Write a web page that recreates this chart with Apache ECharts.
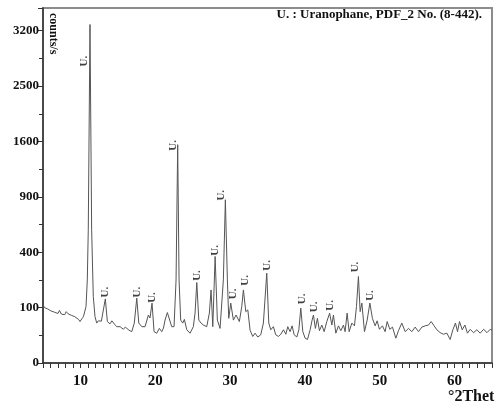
<!DOCTYPE html>
<html><head><meta charset="utf-8">
<script src="https://cdn.jsdelivr.net/npm/echarts@6/dist/echarts.min.js"></script>
<style>html,body{margin:0;padding:0;background:#fff}#c{width:495px;height:405px}</style>
</head><body><div id="c"></div>
<script>
// 2-theta positions (degrees) and intensities (counts/s)
const twoTheta = [5.0,5.2,5.4,5.65,5.9,6.1,6.3,6.55,6.8,7.0,7.2,7.45,7.7,7.9,8.1,8.35,8.6,8.8,9.0,9.25,9.5,9.75,9.95,10.2,10.4,10.75,10.92,11.05,11.28,11.5,11.72,11.95,12.18,12.4,12.62,12.8,12.98,13.33,13.6,13.96,14.2,14.4,14.6,14.85,15.1,15.3,15.5,15.74,16.0,16.19,16.5,16.86,17.2,17.53,17.8,18.2,18.4,18.64,19.08,19.3,19.57,19.84,20.2,20.55,20.87,21.1,21.31,21.62,21.88,22.2,22.51,22.78,23.0,23.18,23.4,23.68,23.89,24.21,24.45,24.65,25.09,25.32,25.55,25.82,26.12,26.43,26.65,26.88,27.23,27.46,27.69,28.0,28.3,28.66,28.89,29.1,29.37,29.64,29.82,30.09,30.44,30.8,31.24,31.56,31.78,32.1,32.37,32.67,33.03,33.34,33.7,34.1,34.45,34.9,35.17,35.44,35.79,36.1,36.46,36.78,37.13,37.45,37.71,38.02,38.29,38.56,38.92,39.19,39.45,39.72,40.03,40.34,40.7,40.96,41.14,41.4,41.67,41.94,42.26,42.57,42.93,43.3,43.6,43.81,44.13,44.48,44.8,45.15,45.37,45.64,45.91,46.27,46.62,46.89,47.15,47.38,47.61,47.96,48.32,48.68,49.02,49.39,49.65,49.96,50.36,50.72,50.99,51.35,51.7,52.15,52.5,52.95,53.4,53.84,54.29,54.73,55.18,55.63,56.07,56.51,56.87,57.27,57.63,58.07,58.52,58.97,59.41,59.77,60.12,60.39,60.66,61.02,61.38,61.72,62.09,62.53,62.98,63.42,63.88,64.33,64.76,65.0];
const counts = [112,100,104,95,98,88,92,84,86,80,90,78,81,76,86,79,82,74,75,70,66,62,56,64,70,104,225,578,3736,578,144,70,52,58,53,57,60,134,56,50,58,56,48,43,47,43,40,37,42,39,35,32,52,137,52,43,47,43,75,66,117,32,29,39,32,40,60,83,81,43,43,225,1554,225,60,52,62,36,33,29,43,81,211,60,52,47,50,43,81,174,43,370,60,39,43,225,869,225,65,117,60,75,56,104,174,86,92,35,23,29,22,26,52,263,52,36,43,26,23,27,36,27,43,32,45,26,22,36,98,32,20,18,36,60,75,39,65,34,47,32,56,81,47,75,29,45,34,47,32,81,32,52,45,104,244,86,117,32,60,117,65,45,58,37,45,32,56,37,42,20,34,52,32,39,32,42,32,42,45,47,56,45,36,30,27,29,18,36,52,32,56,36,47,29,37,30,36,29,37,30,37,35];

// "U." peak annotation positions (2-theta, counts at label base)
const peakLabelTheta  = [10.48,13.33,17.53,19.53,22.34,25.63,27.99,28.76,30.44,32.01,34.91,39.59,41.23,43.37,46.71,48.72];
const peakLabelCounts = [2865,140,140,118,1470,220,375,860,133,195,278,113,84,89,268,126];
const peakLabelText = 'U.';

// y-axis tick labels (square-root intensity scale)
const yTickLabels = ['0','100','400','900','1600','2500','3200'];
const xTickLabels = [10,20,30,40,50,60];

const title = 'U. : Uranophane, PDF_2 No. (8-442).';
const yName = 'counts/s';
const xName = '°2Theta';

const FONT = '"Liberation Serif", "Times New Roman", serif';
const xMin = 5, xMax = 65;
const yMaxSqrt = 64.1;

const lineData = twoTheta.map((t, i) => [t, Math.sqrt(counts[i])]);
const labelData = peakLabelTheta.map((t, i) => [t, Math.sqrt(peakLabelCounts[i])]);
const minorX = [];
for (let v = xMin; v <= xMax; v++) minorX.push(v);

const chart = echarts.init(document.getElementById('c'), null, {renderer: 'canvas'});
chart.setOption({
  animation: false,
  backgroundColor: '#fff',
  grid: {left: 43, right: 3, top: 8, bottom: 42, show: true, borderColor: '#8c8c8c', borderWidth: 2, backgroundColor: 'transparent'},
  xAxis: {
    type: 'value', min: xMin, max: xMax,
    axisLine: {show: true, onZero: false, lineStyle: {color: '#333', width: 1.5}},
    axisTick: {show: true, inside: false, length: 5, customValues: minorX, lineStyle: {color: '#333', width: 1}},
    axisLabel: {show: true, customValues: xTickLabels, color: '#111', fontFamily: FONT, fontWeight: 'bold', fontSize: 15, margin: 11},
    splitLine: {show: false}
  },
  yAxis: {
    type: 'value', min: 0, max: yMaxSqrt, interval: 10,
    axisLine: {show: true, lineStyle: {color: '#333', width: 1.5}},
    axisTick: {show: true, inside: false, length: 5, lineStyle: {color: '#333', width: 1}},
    minorTick: {show: true, splitNumber: 2, length: 4, lineStyle: {color: '#333', width: 1}},
    axisLabel: {
      color: '#111', fontFamily: FONT, fontWeight: 'bold', fontSize: 13, margin: 4,
      formatter: function (v) {
        const k = Math.round(v / 10);
        if (Math.abs(v - k * 10) > 1e-6 || k >= yTickLabels.length) return '';
        return yTickLabels[k];
      }
    },
    splitLine: {show: false}
  },
  series: [
    {
      type: 'line', data: lineData, showSymbol: false, symbol: 'none',
      lineStyle: {color: '#555', width: 1}, silent: true, z: 3
    },
    {
      type: 'scatter', data: labelData, symbolSize: 0, silent: true, z: 4,
      label: {
        show: true, formatter: peakLabelText, position: [0, 0], rotate: 90,
        align: 'left', verticalAlign: 'middle',
        color: '#111', fontFamily: FONT, fontWeight: 'bold', fontSize: 11
      }
    }
  ],
  graphic: [
    {type: 'text', right: 13, top: 8, style: {text: title, fill: '#111', font: 'bold 13px ' + FONT}},
    {type: 'text', x: 47, y: 13, rotation: -Math.PI / 2, style: {text: yName, fill: '#111', font: 'bold 12px ' + FONT, align: 'left', verticalAlign: 'bottom'}},
    {type: 'text', left: 448, top: 389, style: {text: xName, fill: '#111', font: 'bold 16px ' + FONT}}
  ]
});
</script></body></html>
